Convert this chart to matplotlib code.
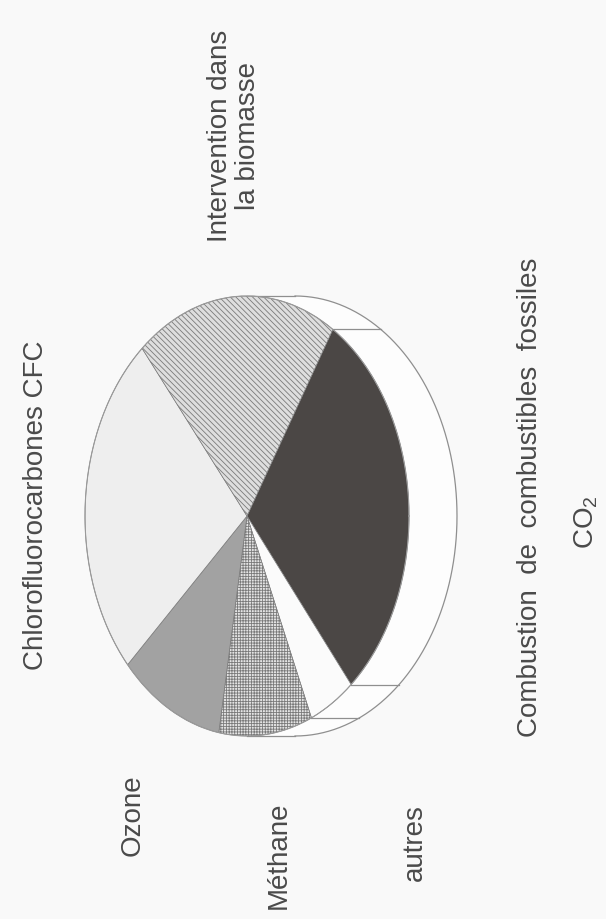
import numpy as np
import matplotlib
matplotlib.use("Agg")
import matplotlib.pyplot as plt
from matplotlib.patches import Polygon

# Sources of the greenhouse effect (% share)
labels = ["Combustion de combustibles fossiles", "autres", "Méthane",
          "Ozone", "Chlorofluorocarbones CFC", "Intervention dans la biomasse"]
shares = [30.0, 4.6, 9.3, 10.4, 25.6, 20.1]
colors = ["#4b4745", "#fbfbfb", "#e4e4e4", "#a2a2a2", "#eeeeee", "#dedede"]
hatches = [None, None, "++++++", None, None, "\\\\\\\\\\\\"]

plt.rcParams["font.family"] = ["Liberation Sans", "DejaVu Sans"]
plt.rcParams["mathtext.fontset"] = "custom"
plt.rcParams["mathtext.rm"] = "Liberation Sans"
plt.rcParams["hatch.linewidth"] = 0.6
plt.rcParams["hatch.color"] = "#8e8e8e"

W, H = 606, 920
cx, cy, rx, ry = 247.0, 517.0, 162.0, 220.0   # pie top face (pixels)
depth = 48.0 / rx                              # extrusion of the rim

fig = plt.figure(figsize=(W / 100, H / 100), dpi=100)
fig.patch.set_facecolor("#f9f9f9")
ax = fig.add_axes([0, 0, 1, 1])
ax.set_facecolor("#f9f9f9")


def px(x, y):
    return (x - cx) / rx, (cy - y) / ry


edge = "#8f8f8f"

# side wall of the tilted disc (visible on the right)
t = np.radians(np.linspace(90, -90, 181))
inner = np.column_stack([np.cos(t), np.sin(t)])
outer = np.column_stack([np.cos(t[::-1]) + depth, np.sin(t[::-1])])
ax.add_patch(Polygon(np.vstack([inner, outer]), closed=True,
                     facecolor="#fdfdfd", edgecolor="none", zorder=1))
ax.plot(np.cos(t) + depth, np.sin(t), color=edge, lw=0.9, zorder=2)
ax.plot([0, depth], [1, 1], color=edge, lw=0.9, zorder=2)
ax.plot([0, depth], [-1, -1], color=edge, lw=0.9, zorder=2)

start = 58.0
wedges, _ = ax.pie(shares, colors=colors, startangle=start, counterclock=False,
                   radius=1.0, center=(0, 0),
                   wedgeprops=dict(linewidth=0.5, edgecolor="#7a7a7a"))
for w, h in zip(wedges, hatches):
    w.set_zorder(3)
    if h:
        w.set_hatch(h)

# vertical edges of the wall at slice boundaries on the visible side
bounds = start - np.cumsum([0] + shares) * 3.6
for b in bounds[:-1]:
    a = np.radians(b)
    if np.cos(a) > 0:
        ax.plot([np.cos(a), np.cos(a) + depth], [np.sin(a), np.sin(a)],
                color=edge, lw=0.9, zorder=2)

# outline of the top face
tt = np.radians(np.linspace(0, 360, 361))
ax.plot(np.cos(tt), np.sin(tt), color="#9a9a9a", lw=0.8, zorder=4)

ax.set_aspect("auto")
ax.set_xlim(px(0, 0)[0], px(W, 0)[0])
ax.set_ylim(px(0, H)[1], px(0, 0)[1])
ax.axis("off")

tc = "#4a4a4a"
fs = 20
kw = dict(rotation=90, ha="center", va="center", color=tc, fontsize=fs,
          rotation_mode="anchor")

ax.text(*px(234, 136), "Intervention dans\nla biomasse", linespacing=1.1,
        multialignment="center", **kw)
ax.text(*px(36, 505), "Chlorofluorocarbones CFC", **kw)
ax.text(*px(133, 815), "Ozone", **kw)
ax.text(*px(279, 855), "Méthane", **kw)
ax.text(*px(415, 843), "autres", **kw)
ax.text(*px(530, 497), "Combustion  de  combustibles  fossiles", **kw)
ax.text(*px(586, 522), r"CO$_{\mathrm{2}}$", **kw)

fig.savefig("out.png", dpi=100, facecolor=fig.get_facecolor())
